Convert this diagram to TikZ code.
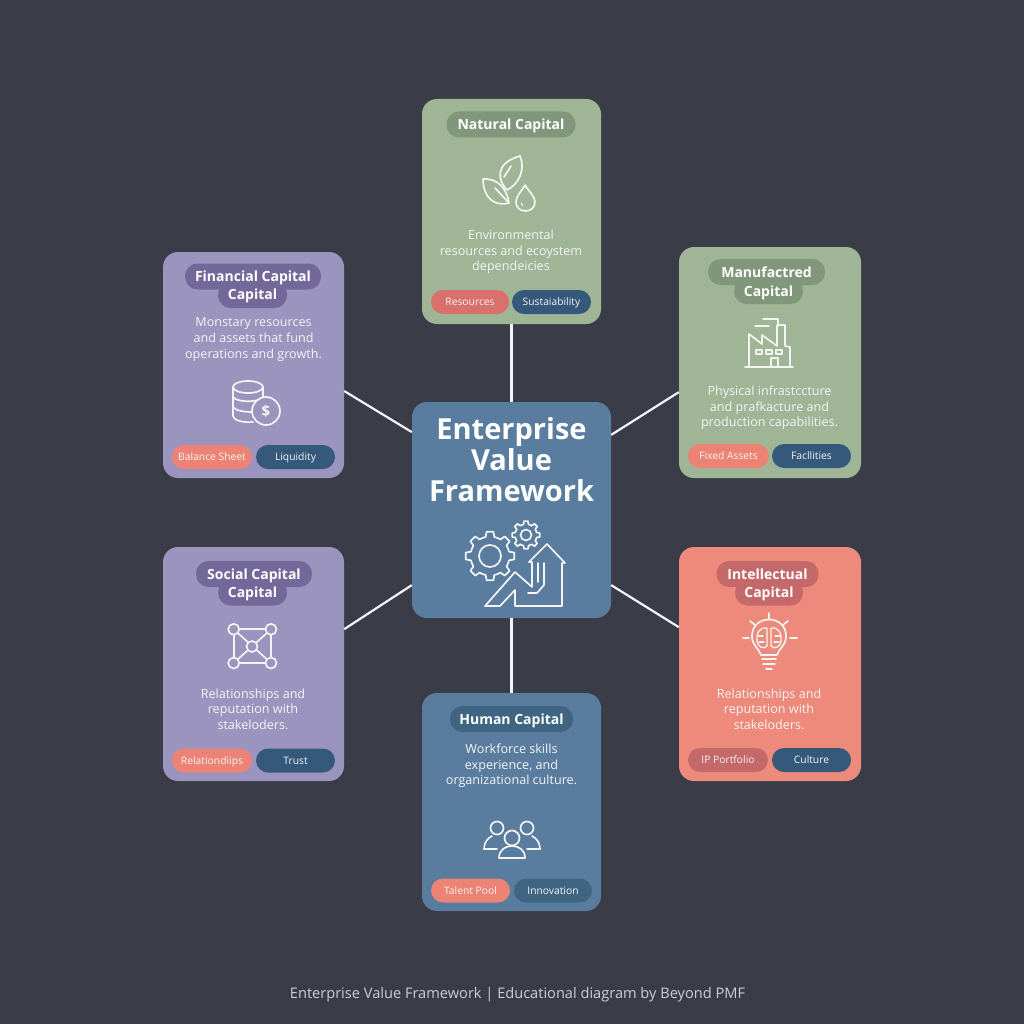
\documentclass[tikz,border=0pt]{standalone}
\usepackage{fontspec}
\setmainfont{Open Sans}
\definecolor{bgdark}{HTML}{3A3D47}
\definecolor{cardgreen}{HTML}{A0B596}
\definecolor{cardpurple}{HTML}{9A94BE}
\definecolor{cardblue}{HTML}{5A7C9E}
\definecolor{cardcoral}{HTML}{EE8A7C}
\definecolor{titlegreen}{HTML}{80977B}
\definecolor{titlepurple}{HTML}{72699A}
\definecolor{titleblue}{HTML}{3F6583}
\definecolor{titlecoral}{HTML}{C4686A}
\definecolor{pillcoral}{HTML}{EC8375}
\definecolor{pillred}{HTML}{D9706B}
\definecolor{pillnavy}{HTML}{35597A}
\definecolor{softwhite}{HTML}{F3F4F4}
\tikzset{
	card/.style={rounded corners=15pt, inner sep=0pt},
	titlepill/.style={rounded corners=12.5pt, inner sep=0pt, minimum height=26pt, text=white, text height=10pt, text depth=0pt, font=\fontsize{14}{16}\selectfont\bfseries},
	titletext/.style={inner sep=0pt, text=white, text height=10pt, text depth=0pt, font=\fontsize{14}{16}\selectfont\bfseries},
	bodytext/.style={align=center, text=softwhite, inner sep=0pt, font=\fontsize{12.6}{15.6}\selectfont},
	tagpill/.style={rounded corners=12pt, inner sep=0pt, minimum width=80pt, minimum height=24pt, text=softwhite, text height=7.5pt, text depth=0pt, font=\fontsize{10.3}{12}\selectfont},
	link/.style={draw=softwhite, line width=2.2pt},
	icon/.style={draw=softwhite, line width=1.7pt, line join=round, line cap=round}
}
% one gear at the origin of the current scope
\newcommand{\gearicon}[3]{
	\foreach \a in {0,45,...,315} {
		\draw[icon] (\a-13:#1) -- (\a-8:#2) -- (\a+8:#2) -- (\a+13:#1) arc[start angle=\a+13, end angle=\a+32, radius=#1];
	}
	\draw[icon] (0,0) circle (#3);
}
\begin{document}
\begin{tikzpicture}[x=1pt, y=-1pt]
	\fill[bgdark] (0,0) rectangle (1024,1024);

	% the cards
	\node[card, fill=cardblue, minimum width=199pt, minimum height=216pt] (hub) at (511.5,510) {};
	\node[card, fill=cardgreen, minimum width=179pt, minimum height=225pt] (natural) at (511.5,211.5) {};
	\node[card, fill=cardpurple, minimum width=181pt, minimum height=226pt] (financial) at (253.5,365) {};
	\node[card, fill=cardgreen, minimum width=182pt, minimum height=231pt] (manufactured) at (770,362.5) {};
	\node[card, fill=cardpurple, minimum width=181pt, minimum height=234pt] (social) at (253.5,664) {};
	\node[card, fill=cardcoral, minimum width=182pt, minimum height=234pt] (intellectual) at (770,664) {};
	\node[card, fill=cardblue, minimum width=179pt, minimum height=218pt] (human) at (511.5,802) {};

	% links to the hub
	\draw[link] (natural.south) -- (hub.north);
	\draw[link] (hub.south) -- (human.north);
	\draw[link] (hub.142.6) -- (financial.-16.6);
	\draw[link] (hub.37.4) -- (manufactured.198);
	\draw[link] (hub.217.4) -- (social.21.7);
	\draw[link] (hub.-37.4) -- (intellectual.158.4);

	% hub
	\node[align=center, inner sep=0pt, text=white, font=\fontsize{29}{31}\selectfont\bfseries] (hubtitle) at (511.5,460) {Enterprise\\Value\\Framework};
	\begin{scope}[shift={(490,556)}]
		\gearicon{19.5}{24.5}{11}
	\end{scope}
	\begin{scope}[shift={(526,535)}]
		\gearicon{11}{14}{5.5}
	\end{scope}
	\draw[icon] (485,606) -- (515,572) -- (532,587) -- (532,562) -- (529,562) -- (547,544) -- (565,563) -- (562,563) -- (562,606) -- (515,606) -- (515,590) -- (500,606) -- cycle;
	\draw[icon] (544,563) -- (544,585) -- (537,593) -- (528,593);
	\draw[icon] (538,563) -- (538,582);

	% natural
	\node[titlepill, fill=titlegreen, minimum width=129pt] (naturaltitle) at (511,124.5) {Natural Capital};
	\draw[icon] (507,190) .. controls (497,180) and (495,163) .. (520,156) .. controls (526,170) and (518,185) .. (507,190);
	\draw[icon] (504,177) -- (511,166);
	\draw[icon] (483,179) .. controls (499,178) and (507,190) .. (509,203) .. controls (495,207) and (483,198) .. (483,179);
	\draw[icon] (495,188) -- (509,203);
	\draw[icon] (525,185) .. controls (521,192) and (516,196) .. (516,202) .. controls (516,214) and (535,214) .. (535,202) .. controls (535,196) and (529,192) .. (525,185);
	\draw[icon, line width=1pt] (521,203) -- (523,206);
	\node[bodytext] (naturaltext) at (511,252) {Environmental\\resources and ecoystem\\dependeicies};
	\node[tagpill, fill=pillred, minimum width=78pt] (resources) at (470,302) {Resources};
	\node[tagpill, fill=pillnavy, minimum width=79pt] (sustainability) at (551.5,302) {Sustaiability};

	% financial
	\node[titlepill, fill=titlepurple, minimum width=69pt] (financialpillb) at (252.5,295) {};
	\node[titlepill, fill=titlepurple, minimum width=136pt] (financialtitle) at (253,276.5) {Financial Capital};
	\node[titletext] (financialcapital) at (252.5,294.5) {Capital};
	\node[bodytext] (financialtext) at (253.5,339.5) {Monstary resources\\and assets that fund\\operations and growth.};
	\draw[icon] (248,387) ellipse (15 and 6);
	\draw[icon] (233,387) -- (233,416) .. controls (233,420) and (243,423) .. (253,422);
	\draw[icon] (263,387) -- (263,399);
	\draw[icon] (233,397) .. controls (236,402) and (256,403) .. (263,398);
	\draw[icon] (233,407) .. controls (236,411) and (245,412) .. (252,412);
	\draw[icon, fill=cardpurple] (266,411) circle (14);
	\node[inner sep=0pt, text=softwhite, font=\fontsize{15}{15}\selectfont\bfseries] (dollar) at (266,411) {\$};
	\node[tagpill, fill=pillcoral] (balance) at (212,457) {Balance Sheet};
	\node[tagpill, fill=pillnavy, minimum width=79pt] (liquidity) at (295.5,457) {Liquidity};

	% manufactured
	\node[titlepill, fill=titlegreen, minimum width=69pt] (manufacturedpillb) at (768.5,291) {};
	\node[titlepill, fill=titlegreen, minimum width=117pt] (manufacturedtitle) at (766.5,272) {Manufactred};
	\node[titletext] (manufacturedcapital) at (768.5,291) {Capital};
	\draw[icon] (749,367) -- (749,334) -- (762,344) -- (762,335) -- (777,346) -- (777,325) -- (785,325) -- (785,346) -- (790,347) -- (790,367);
	\draw[icon] (745,367) -- (793,367);
	\draw[icon] (763,319) -- (778,319) -- (778,326);
	\draw[icon, line width=1.2pt] (755,326) -- (769,326);
	\foreach \wx in {756,766,776} {
		\draw[icon, line width=1.2pt] (\wx,350) rectangle (\wx+6,354);
	}
	\draw[icon, line width=1.2pt] (771,367) -- (771,358) -- (778,358) -- (778,367);
	\node[bodytext] (manufacturedtext) at (769.5,408) {Physical infrastccture\\and prafkacture and\\production capabilities.};
	\node[tagpill, fill=pillcoral, minimum width=81pt] (fixedassets) at (728.5,456) {Fixed Assets};
	\node[tagpill, fill=pillnavy, minimum width=79pt] (facilities) at (811.5,456) {Facllities};

	% social
	\node[titlepill, fill=titlepurple, minimum width=69pt] (socialpillb) at (252.5,592.5) {};
	\node[titlepill, fill=titlepurple, minimum width=116pt] (socialtitle) at (254,574) {Social Capital};
	\node[titletext] (socialcapital) at (252.5,592) {Capital};
	\draw[icon] (233.7,629.3) -- (271,629.3) -- (271,663) -- (233.7,663) -- cycle;
	\draw[icon] (233.7,629.3) -- (271,663);
	\draw[icon] (271,629.3) -- (233.7,663);
	\foreach \px/\py in {233.7/629.3, 271/629.3, 233.7/663, 271/663, 252/646.5} {
		\draw[icon, fill=cardpurple] (\px,\py) circle (5.5);
	}
	\node[bodytext] (socialtext) at (253,709) {Relationships and\\reputation with\\stakeloders.};
	\node[tagpill, fill=pillcoral] (relationships) at (212,760.5) {Relationdiips};
	\node[tagpill, fill=pillnavy, minimum width=79pt] (trust) at (295.5,760.5) {Trust};

	% intellectual
	\node[titlepill, fill=titlecoral, minimum width=68pt] (intellectualpillb) at (769,592.5) {};
	\node[titlepill, fill=titlecoral, minimum width=102pt] (intellectualtitle) at (767.5,574) {Intellectual};
	\node[titletext] (intellectualcapital) at (769,592) {Capital};
	\draw[icon] (761,655) .. controls (759,648) and (752,646) .. (752,636) .. controls (752,614) and (786,614) .. (786,636) .. controls (786,646) and (779,648) .. (777,655) -- cycle;
	\foreach \by/\bh in {659/7, 664/6, 669/3} {
		\draw[icon] (769-\bh,\by) -- (769+\bh,\by);
	}
	\draw[icon] (769,613) -- (769,619);
	\draw[icon] (750,621) -- (755,625);
	\draw[icon] (788,621) -- (783,625);
	\draw[icon] (743,638) -- (749,638);
	\draw[icon] (790,638) -- (797,638);
	% brain inside the bulb
	\draw[icon, line width=1.3pt] (767,628) .. controls (759,627) and (756,634) .. (757,640) .. controls (757,647) and (764,650) .. (767,646) -- cycle;
	\draw[icon, line width=1.3pt] (771,628) .. controls (779,627) and (782,634) .. (781,640) .. controls (781,647) and (774,650) .. (771,646) -- cycle;
	\draw[icon, line width=1.3pt] (758,636) -- (763,636) (759,642) -- (764,642);
	\draw[icon, line width=1.3pt] (775,636) -- (780,636) (774,642) -- (779,642);
	\node[bodytext] (intellectualtext) at (769,709) {Relationships and\\reputation with\\stakeloders.};
	\node[tagpill, fill=titlecoral] (portfolio) at (728,760) {IP Portfolio};
	\node[tagpill, fill=pillnavy, minimum width=79pt] (culture) at (811.5,760) {Culture};

	% human
	\node[titlepill, fill=titleblue, minimum width=123pt] (humantitle) at (511.5,719) {Human Capital};
	\node[bodytext] (humantext) at (511.5,766) {Workforce skills\\experience, and\\organizational culture.};
	\draw[icon] (497,828) circle (6.5);
	\draw[icon] (527,828) circle (6.5);
	\draw[icon] (484,849) .. controls (484,842) and (488,838) .. (492,836);
	\draw[icon] (484,849) -- (497,849);
	\draw[icon] (540,849) .. controls (540,842) and (536,838) .. (532,836);
	\draw[icon] (540,849) -- (527,849);
	\draw[icon] (512,838) circle (7.5);
	\draw[icon] (499,858) .. controls (499,850) and (505,846) .. (512,846) .. controls (519,846) and (525,850) .. (525,858) -- cycle;
	\node[tagpill, fill=pillcoral, minimum width=79pt] (talent) at (470.5,890.5) {Talent Pool};
	\node[tagpill, fill=titleblue, minimum width=78pt] (innovation) at (553,890.5) {Innovation};

	\node[inner sep=0pt, text=softwhite!80!bgdark, font=\fontsize{14.6}{16}\selectfont] (footer) at (517.5,995) {Enterprise Value Framework | Educational diagram by Beyond PMF};
\end{tikzpicture}
\end{document}
